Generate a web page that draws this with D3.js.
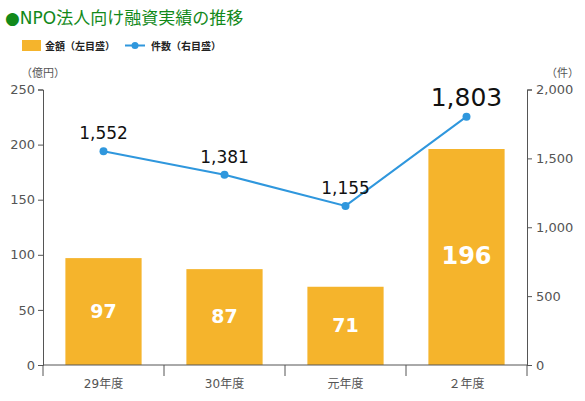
<!DOCTYPE html>
<html><head><meta charset="utf-8">
<script src="https://cdn.jsdelivr.net/npm/d3@7"></script>
<style>body{margin:0;background:#fff}svg{display:block}</style>
</head><body>
<script>
const categories = ["29年度","30年度","元年度","２年度"];
const amounts = [97, 87, 71, 196];
const counts = [1552, 1381, 1155, 1803];
const leftTicks = [0,50,100,150,200,250];
const rightTicks = [0,500,1000,1500,2000];

const W=585,H=401;
const svg=d3.select("body").append("svg").attr("width",W).attr("height",H);
const font="'DejaVu Sans', Verdana, 'Noto Sans CJK JP', sans-serif";
const m={l:43,r:527,t:89.5,b:365};
const x=d3.scaleBand().domain(categories).range([m.l,m.r]).paddingInner(0.37).paddingOuter(0.185);
const xb=d3.scaleBand().domain(categories).range([m.l,m.r]);
const yL=d3.scaleLinear().domain([0,250]).range([m.b,m.t]);
const yR=d3.scaleLinear().domain([0,2000]).range([m.b,m.t]);
const grey="#555";

// title
svg.append("text").attr("x",5).attr("y",24).attr("fill","#12891a").attr("font-family",font).attr("font-size",17)
  .text("●NPO法人向け融資実績の推移");
// legend
svg.append("rect").attr("x",22).attr("y",40).attr("width",19).attr("height",11).attr("fill","#f5b42c");
svg.append("text").attr("x",45).attr("y",50).attr("font-family",font).attr("font-size",10).attr("font-weight","bold").attr("fill","#222").text("金額（左目盛）");
svg.append("line").attr("x1",125).attr("x2",145).attr("y1",45.5).attr("y2",45.5).attr("stroke","#2f97dd").attr("stroke-width",2);
svg.append("circle").attr("cx",135).attr("cy",45.5).attr("r",3.5).attr("fill","#2f97dd");
svg.append("text").attr("x",151).attr("y",50).attr("font-family",font).attr("font-size",10).attr("font-weight","bold").attr("fill","#222").text("件数（右目盛）");
// units
svg.append("text").attr("x",21).attr("y",77).attr("font-family",font).attr("font-size",11).attr("fill",grey).text("（億円）");
svg.append("text").attr("x",546).attr("y",77).attr("font-family",font).attr("font-size",11).attr("fill",grey).text("（件）");

// bars
svg.selectAll("rect.bar").data(amounts).enter().append("rect").attr("class","bar")
  .attr("x",(d,i)=>x(categories[i])).attr("width",x.bandwidth())
  .attr("y",d=>yL(d)).attr("height",d=>m.b-yL(d)).attr("fill","#f5b42c");
svg.selectAll("text.bl").data(amounts).enter().append("text").attr("class","bl")
  .attr("x",(d,i)=>x(categories[i])+x.bandwidth()/2)
  .attr("y",(d,i)=>(yL(d)+m.b)/2+(i==3?7:6))
  .attr("text-anchor","middle").attr("fill","#fff").attr("font-weight","bold").attr("font-family",font)
  .attr("font-size",(d,i)=>i==3?24:19).text(d=>d);

// axes
const axL=svg.append("g").attr("transform",`translate(${m.l},0)`).call(d3.axisLeft(yL).tickValues(leftTicks).tickSize(5).tickPadding(3));
const axR=svg.append("g").attr("transform",`translate(${m.r},0)`).call(d3.axisRight(yR).tickValues(rightTicks).tickSize(5).tickPadding(4).tickFormat(d3.format(",")));
const axB=svg.append("g").attr("transform",`translate(0,${m.b})`).call(d3.axisBottom(x).tickSize(0).tickPadding(14));
axB.select(".domain").attr("d",`M${m.l},0H${m.r}`);
axB.selectAll(".bt").data(categories.concat([null])).enter().append("line").attr("class","bt")
  .attr("x1",(d,i)=>m.l+i*xb.step()).attr("x2",(d,i)=>m.l+i*xb.step()).attr("y1",0).attr("y2",11).attr("stroke",grey);
[axL,axR,axB].forEach(a=>{
  a.selectAll(".domain").attr("stroke",grey);
  a.selectAll(".tick line").attr("stroke",grey);
  a.selectAll("text").attr("fill",grey).attr("font-family",font).attr("font-size",13);
});
axB.selectAll("text").attr("font-size",12);

// line
const cx=(i)=>x(categories[i])+x.bandwidth()/2;
svg.append("path").datum(counts).attr("fill","none").attr("stroke","#2f97dd").attr("stroke-width",2)
  .attr("d",d3.line().x((d,i)=>cx(i)).y(d=>yR(d)));
svg.selectAll("circle.pt").data(counts).enter().append("circle").attr("class","pt")
  .attr("cx",(d,i)=>cx(i)).attr("cy",d=>yR(d)).attr("r",4).attr("fill","#2f97dd");
svg.selectAll("text.pl").data(counts).enter().append("text").attr("class","pl")
  .attr("x",(d,i)=>cx(i)).attr("y",(d,i)=>yR(d)-(i==3?11:12))
  .attr("text-anchor","middle").attr("fill","#111").attr("font-family",font)
  .attr("font-size",(d,i)=>i==3?25:17).text(d=>d3.format(",")(d));
</script>
</body></html>
